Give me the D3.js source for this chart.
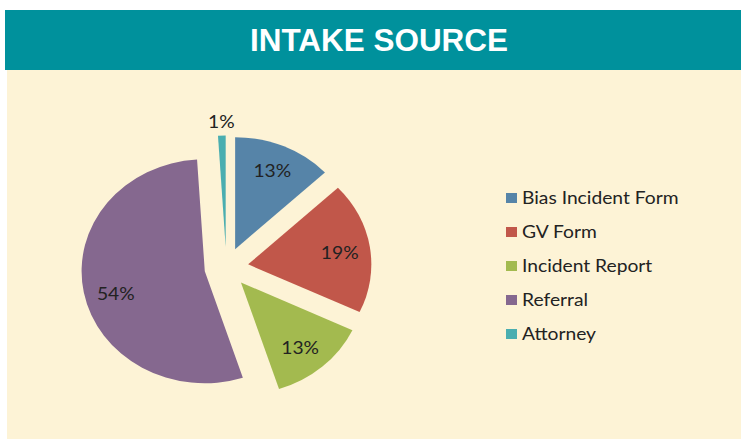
<html>
<script src='https://d3js.org/d3.v7.min.js'></script>
<style>
body {margin:0; background:white;}
text {font-family: Lato, 'Open Sans', sans-serif;}
</style>
<body>
<svg width=741 height=439></svg>
<script>
// chart data
var title = 'INTAKE SOURCE';
var categories = ['Bias Incident Form', 'GV Form', 'Incident Report', 'Referral', 'Attorney'];
var values = [13, 19, 13, 54, 1];
var labels = ['13%', '19%', '13%', '54%', '1%'];
var colors = ['#5684a8', '#c1574a', '#a3ba4f', '#85688f', '#4aaeb0'];

var svg = d3.select('svg');

// backgrounds
svg.append('rect').attr('x', 7).attr('y', 69).attr('width', 734).attr('height', 370).attr('fill', '#fdf3d6');
svg.append('rect').attr('x', 5).attr('y', 10).attr('width', 736).attr('height', 60).attr('fill', '#00919c');
svg.append('text')
  .attr('x', 379).attr('y', 51)
  .attr('text-anchor', 'middle')
  .attr('fill', 'white')
  .attr('textLength', 258)
  .attr('lengthAdjust', 'spacingAndGlyphs')
  .style('font-family', "'Liberation Sans', Arial, sans-serif")
  .style('font-weight', 'bold')
  .style('font-size', '32px')
  .text(title);

// the source picture is stretched a little horizontally
var ry = 112, sx = 1.1, explode = 20;
var pie = d3.pie().sort(null)(values);
var arc = d3.arc().innerRadius(0).outerRadius(ry);

var g = svg.append('g').attr('transform', 'translate(226.4,267.5)');
var pieG = g.append('g').attr('transform', 'scale(' + sx + ',1)');

pieG.selectAll('path')
  .data(pie)
  .enter()
  .append('path')
   .attr('d', arc)
   .attr('fill', function(d, i) {return colors[i];})
   .attr('transform', function(d) {
      var a = (d.startAngle + d.endAngle) / 2;
      return 'translate(' + (Math.sin(a) * explode) + ',' + (-Math.cos(a) * explode) + ')';
   });

// label placement: radius fraction and small angle nudge (degrees)
var labelR = [0.76, 0.75, 0.755, 0.75, 1.12];
var labelTurn = [0, 1, 1.5, -4, 0];
function labelAngle(d, i) {return (d.startAngle + d.endAngle) / 2 + labelTurn[i] * Math.PI / 180;}

pieG.selectAll('text')
  .data(pie)
  .enter()
  .append('text')
   .attr('x', function(d, i) {return Math.sin(labelAngle(d, i)) * (ry * labelR[i] + explode);})
   .attr('y', function(d, i) {return -Math.cos(labelAngle(d, i)) * (ry * labelR[i] + explode);})
   .attr('dy', '0.35em')
   .attr('text-anchor', 'middle')
   .attr('fill', '#222')
   .style('font-size', '17.5px')
   .text(function(d, i) {return labels[i];});

// legend
var legendY = d3.scaleBand().domain(categories).range([181, 351]);
var legend = svg.append('g')
  .selectAll('g')
  .data(categories)
  .enter()
  .append('g')
   .attr('transform', function(d) {return 'translate(506,' + (legendY(d) + legendY.bandwidth() / 2) + ')';});

legend.append('rect')
  .attr('x', 0).attr('y', -5)
  .attr('width', 11).attr('height', 10)
  .attr('fill', function(d, i) {return colors[i];});

legend.append('text')
  .attr('transform', 'translate(16,0) scale(' + sx + ',1)')
  .attr('dy', '0.35em')
  .attr('fill', '#222')
  .style('font-size', '17.5px')
  .text(function(d) {return d;});
</script>
</body>
</html>
